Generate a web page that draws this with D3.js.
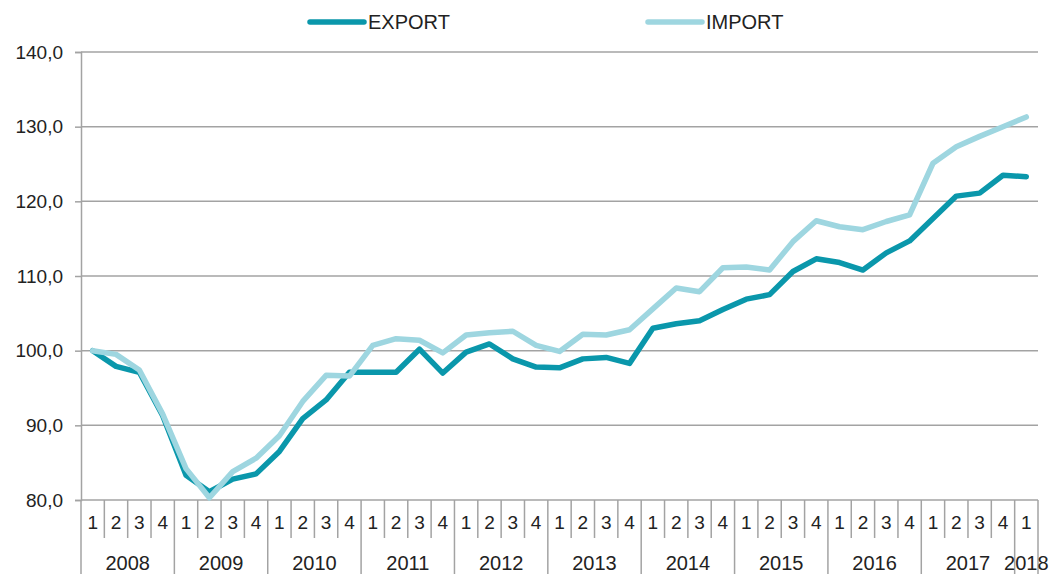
<!DOCTYPE html>
<html>
<head>
<meta charset="utf-8">
<script src="https://cdn.jsdelivr.net/npm/d3@7"></script>
<style>
  body { margin: 0; background: #fff; }
  svg { font-family: "Liberation Sans", Arial, sans-serif; }
</style>
</head>
<body>
<div id="chart"></div>
<script>
const years = ['2008', '2009', '2010', '2011', '2012', '2013', '2014', '2015', '2016', '2017', '2018'];
const quarters = ['1', '2', '3', '4'];

const exportValues = [
  100.0, 97.9, 97.1, 91.3,
  83.3, 81.1, 82.8, 83.5,
  86.5, 90.9, 93.4, 97.1,
  97.1, 97.1, 100.2, 97.0,
  99.8, 100.9, 98.9, 97.8,
  97.7, 98.9, 99.1, 98.3,
  103.0, 103.6, 104.0, 105.5,
  106.9, 107.5, 110.6, 112.3,
  111.8, 110.8, 113.1, 114.7,
  117.7, 120.7, 121.1, 123.5,
  123.3
];
const importValues = [
  100.0, 99.5, 97.4, 91.5,
  84.2, 80.3, 83.8, 85.6,
  88.6, 93.2, 96.7, 96.6,
  100.7, 101.6, 101.4, 99.7,
  102.1, 102.4, 102.6, 100.7,
  99.9, 102.2, 102.1, 102.8,
  105.6, 108.4, 107.9, 111.1,
  111.2, 110.8, 114.6, 117.4,
  116.6, 116.2, 117.3, 118.2,
  125.1, 127.3, 128.7, 130.0,
  131.3
];
const yTicks = [80, 90, 100, 110, 120, 130, 140];

const series = [
  { name: 'EXPORT', values: exportValues, color: '#0a97ab' },
  { name: 'IMPORT', values: importValues, color: '#9ed6e0' }
];

// quarter keys, e.g. 2008-1 ... 2018-1
const keys = [];
years.forEach(y => quarters.forEach(q => {
  if (keys.length < exportValues.length) keys.push(y + '-' + q);
}));

const width = 1051, height = 574;
const margin = { top: 52, right: 13, bottom: 74, left: 81 };

const svg = d3.select('#chart').append('svg')
  .attr('width', width)
  .attr('height', height);

const x = d3.scaleBand()
  .domain(keys)
  .range([margin.left, width - margin.right]);

const y = d3.scaleLinear()
  .domain([80, 140])
  .range([height - margin.bottom, margin.top]);

const gridColor = '#a3a3a3';

// gridlines
svg.append('g')
  .selectAll('line')
  .data(yTicks)
  .join('line')
  .attr('x1', margin.left)
  .attr('x2', width - margin.right)
  .attr('y1', d => y(d))
  .attr('y2', d => y(d))
  .attr('stroke', gridColor)
  .attr('stroke-width', 1.5);

// y axis
const yAxis = svg.append('g')
  .attr('transform', `translate(${margin.left},0)`)
  .call(d3.axisLeft(y).tickValues(yTicks).tickSize(6).tickPadding(12)
    .tickFormat(d => d3.format('.1f')(d).replace('.', ',')));
yAxis.select('.domain').attr('stroke', gridColor).attr('stroke-width', 1.5);
yAxis.selectAll('.tick line').attr('stroke', gridColor).attr('stroke-width', 1.5);
yAxis.selectAll('.tick text')
  .attr('fill', '#222')
  .style('font-size', '19px');

// x axis: quarter separators and year separators
const bottom = height - margin.bottom;
const bw = x.bandwidth();
const xg = svg.append('g');

keys.forEach((k, i) => {
  const q = k.split('-')[1];
  const left = x(k);
  const isYearStart = q === '1';
  xg.append('line')
    .attr('x1', left).attr('x2', left)
    .attr('y1', bottom)
    .attr('y2', isYearStart ? height : bottom + 38)
    .attr('stroke', gridColor).attr('stroke-width', 1.5);
  xg.append('text')
    .attr('x', left + bw / 2)
    .attr('y', bottom + 29)
    .attr('text-anchor', 'middle')
    .style('font-size', '19px')
    .attr('fill', '#222')
    .text(q);
});
xg.append('line')
  .attr('x1', width - margin.right).attr('x2', width - margin.right)
  .attr('y1', bottom).attr('y2', height)
  .attr('stroke', gridColor).attr('stroke-width', 1.5);

years.forEach(yr => {
  const yrKeys = keys.filter(k => k.startsWith(yr));
  const x0 = x(yrKeys[0]);
  const x1 = x(yrKeys[yrKeys.length - 1]) + bw;
  xg.append('text')
    .attr('x', (x0 + x1) / 2)
    .attr('y', bottom + 70)
    .attr('text-anchor', 'middle')
    .style('font-size', '20px')
    .attr('fill', '#222')
    .text(yr);
});

// lines
const line = d3.line()
  .x((d, i) => x(keys[i]) + bw / 2)
  .y(d => y(d));

series.forEach(s => {
  svg.append('path')
    .datum(s.values)
    .attr('d', line)
    .attr('fill', 'none')
    .attr('stroke', s.color)
    .attr('stroke-width', 5.5)
    .attr('stroke-linejoin', 'round')
    .attr('stroke-linecap', 'round');
});

// legend
const legendPos = [310, 648];
series.forEach((s, i) => {
  const g = svg.append('g').attr('transform', `translate(${legendPos[i]},22)`);
  g.append('line')
    .attr('x1', 0).attr('x2', 54)
    .attr('stroke', s.color)
    .attr('stroke-width', 5.5)
    .attr('stroke-linecap', 'round');
  g.append('text')
    .attr('x', 58)
    .attr('y', 7)
    .style('font-size', '20px')
    .attr('fill', '#222')
    .text(s.name);
});
</script>
</body>
</html>
